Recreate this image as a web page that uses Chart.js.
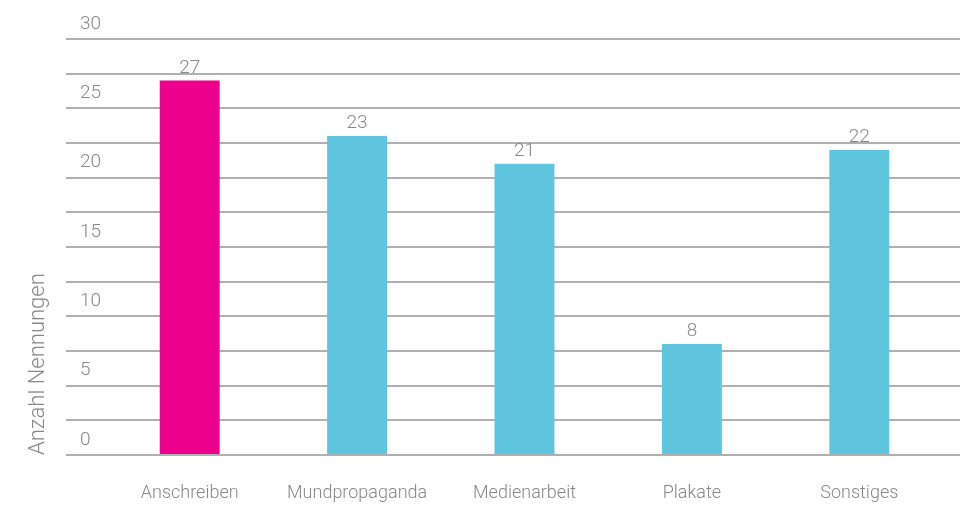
<!DOCTYPE html>
<html>
<head>
<meta charset="utf-8">
<script src="https://cdn.jsdelivr.net/npm/chart.js@4/dist/chart.umd.min.js"></script>
<style>
  html, body { margin: 0; padding: 0; background: #ffffff; }
  #wrap { width: 960px; height: 505px; position: relative; }
</style>
</head>
<body>
<div id="wrap"><canvas id="c" width="960" height="505"></canvas></div>
<script>
const categories = ['Anschreiben', 'Mundpropaganda', 'Medienarbeit', 'Plakate', 'Sonstiges'];
const values = [27, 23, 21, 8, 22];
const barColors = ['#ec008c', '#5fc5de', '#5fc5de', '#5fc5de', '#5fc5de'];
const yMin = 0;
const yMax = 30;
const yStep = 2.5;
const labelEvery = 5;
const yTitle = 'Anzahl Nennungen';

const FONT = 'Roboto, "Open Sans", Arial, sans-serif';
const TEXT = '#888888';
const GRID = '#b0b0b0';

const valueLabels = {
  id: 'valueLabels',
  afterDatasetsDraw(chart) {
    const ctx = chart.ctx;
    const meta = chart.getDatasetMeta(0);
    ctx.save();
    ctx.font = '300 19px ' + FONT;
    ctx.fillStyle = TEXT;
    ctx.textAlign = 'center';
    ctx.textBaseline = 'bottom';
    meta.data.forEach((bar, i) => {
      ctx.fillText(String(chart.data.datasets[0].data[i]), bar.x, bar.y - 3);
    });
    ctx.restore();
  }
};

function buildTicks(scale) {
  const t = [];
  for (let v = yMin; v <= yMax + 1e-9; v += yStep) t.push({ value: v });
  scale.ticks = t;
}

new Chart(document.getElementById('c'), {
  type: 'bar',
  data: {
    labels: categories,
    datasets: [{
      data: values,
      backgroundColor: barColors,
      borderWidth: 0,
      barPercentage: 0.358,
      categoryPercentage: 1.0
    }]
  },
  options: {
    responsive: false,
    animation: false,
    devicePixelRatio: 1,
    layout: { padding: { top: 39, bottom: 0, left: 0, right: 0 } },
    plugins: {
      legend: { display: false },
      tooltip: { enabled: false }
    },
    scales: {
      x: {
        grid: { display: false, drawTicks: false },
        border: { display: false },
        afterFit(scale) { scale.height = 50; },
        ticks: {
          color: TEXT,
          font: { family: FONT, size: 18, weight: '300' },
          padding: 28,
          maxRotation: 0
        }
      },
      y: {
        position: 'left',
        min: yMin,
        max: yMax,
        afterBuildTicks: buildTicks,
        afterFit(scale) { scale.width = 106; },
        grid: { color: GRID, lineWidth: 2, drawTicks: true, tickLength: 40, tickColor: GRID, tickWidth: 2 },
        border: { display: false },
        ticks: {
          mirror: true,
          padding: -26,
          labelOffset: -15,
          color: TEXT,
          font: { family: FONT, size: 19, weight: '300' },
          callback: (v) => (v % labelEvery === 0 ? String(v) : '')
        },
        title: {
          display: true,
          text: yTitle,
          align: 'start',
          color: TEXT,
          font: { family: FONT, size: 22, weight: '300' },
          padding: { top: 25, bottom: 0 }
        }
      },
      y2: {
        position: 'right',
        min: yMin,
        max: yMax,
        afterBuildTicks: buildTicks,
        afterFit(scale) { scale.width = 17; },
        grid: { drawOnChartArea: false, drawTicks: true, tickLength: 17, color: GRID, tickColor: GRID, lineWidth: 2, tickWidth: 2 },
        border: { display: false },
        ticks: { display: false }
      }
    }
  },
  plugins: [valueLabels]
});
</script>
</body>
</html>
